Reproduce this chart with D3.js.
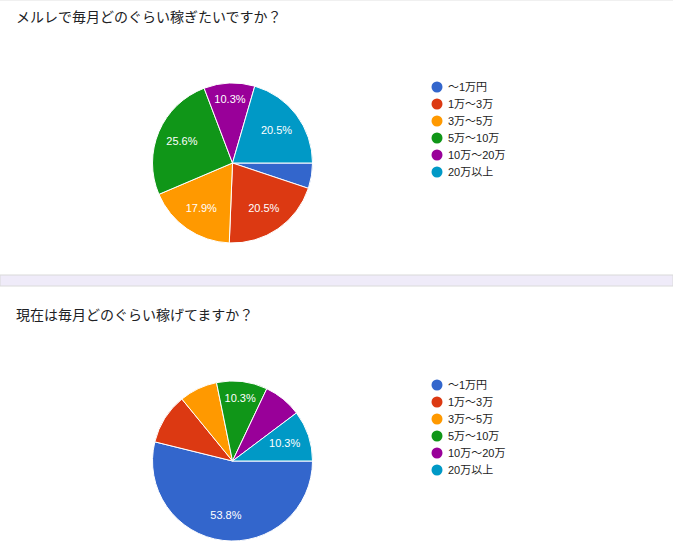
<!DOCTYPE html>
<html>
<head>
<meta charset="utf-8">
<script src="https://cdn.jsdelivr.net/npm/d3@7"></script>
<style>
	body { margin: 0; background: #fff; }
	svg { display: block; }
</style>
</head>
<body>
<div id="chart"></div>
<script>
// answer categories (same for both questions)
const categories = ['～1万円', '1万～3万', '3万～5万', '5万～10万', '10万～20万', '20万以上'];
const colors = ['#3366cc', '#dc3912', '#ff9900', '#109618', '#990099', '#0099c6'];

// question titles
const titles = ['メルレで毎月どのぐらい稼ぎたいですか？', '現在は毎月どのぐらい稼げてますか？'];

// response counts (39 answers each)
const wantCounts = [2, 8, 7, 10, 4, 8];
const nowCounts = [21, 4, 3, 4, 3, 4];

// which slices got a percentage printed on them
const wantLabelShown = [false, true, true, true, true, true];
const nowLabelShown = [true, false, false, true, false, true];

const width = 673, height = 549;
const svg = d3.select('#chart').append('svg')
	.attr('width', width)
	.attr('height', height);

// top hairline and separator band between the two cards
svg.append('rect').attr('x', 0).attr('y', 0).attr('width', width).attr('height', 1).attr('fill', '#f0f0f0');
svg.append('rect').attr('x', 0).attr('y', 275).attr('width', width).attr('height', 11)
	.attr('fill', '#efebf9').attr('stroke', '#dadada').attr('stroke-width', 1);

const color = d3.scaleOrdinal().domain(categories).range(colors);

const pie = d3.pie()
	.sort(null)
	.value(d => d[1])
	.startAngle(Math.PI / 2)
	.endAngle(Math.PI / 2 + 2 * Math.PI);

const radius = 80;
const arc = d3.arc().innerRadius(0).outerRadius(radius);

// push a label outwards along the slice middle until its box clears both edges
function labelRadius(d, w, h) {
	const base = 55, margin = 3.5;
	if (d.endAngle - d.startAngle > Math.PI) return base;
	const mid = (d.startAngle + d.endAngle) / 2;
	const u0 = [Math.sin(d.startAngle), -Math.cos(d.startAngle)];
	const u1 = [Math.sin(d.endAngle), -Math.cos(d.endAngle)];
	for (let r = base; r < radius; r += 0.5) {
		const cx = r * Math.sin(mid), cy = -r * Math.cos(mid);
		const corners = [[-1, -1], [1, -1], [1, 1], [-1, 1]].map(s => [cx + s[0] * w / 2, cy + s[1] * h / 2]);
		const ok = corners.every(p =>
			u0[0] * p[1] - u0[1] * p[0] >= margin &&
			u1[0] * p[1] - u1[1] * p[0] <= -margin &&
			Math.hypot(p[0], p[1]) <= radius - 2);
		if (ok) return r;
	}
	return base;
}

function drawCard(title, counts, shown, offsetY) {
	const g = svg.append('g').attr('transform', `translate(0,${offsetY})`);

	g.append('text')
		.attr('x', 16)
		.attr('y', 22)
		.attr('font-family', '"Noto Sans CJK JP", sans-serif')
		.attr('font-size', '14px')
		.attr('fill', '#202124')
		.text(title);

	const total = d3.sum(counts);
	const data = pie(categories.map((c, i) => [c, counts[i]]));

	const p = g.append('g').attr('transform', `translate(232.5,163)`);
	p.selectAll('path')
		.data(data)
		.join('path')
		.attr('d', arc)
		.attr('fill', d => color(d.data[0]))
		.attr('stroke', 'white')
		.style('stroke-width', '1px');

	const labels = p.selectAll('text')
		.data(data.filter(d => shown[d.index]))
		.join('text')
		.attr('text-anchor', 'middle')
		.attr('dy', '0.35em')
		.attr('font-family', 'Arial, "Liberation Sans", sans-serif')
		.attr('font-size', '11px')
		.attr('fill', 'white')
		.text(d => (d.data[1] / total * 100).toFixed(1) + '%');
	labels.each(function(d) {
		const w = this.getComputedTextLength();
		const r = labelRadius(d, w, 11);
		const mid = (d.startAngle + d.endAngle) / 2;
		d3.select(this).attr('transform', `translate(${r * Math.sin(mid)},${-r * Math.cos(mid)})`);
	});

	// legend
	const legend = g.append('g').attr('transform', 'translate(437,87)');
	const item = legend.selectAll('g')
		.data(categories)
		.join('g')
		.attr('transform', (d, i) => `translate(0,${i * 17})`);
	item.append('circle')
		.attr('r', 5.5)
		.attr('fill', d => color(d));
	item.append('text')
		.attr('x', 11)
		.attr('dy', '0.36em')
		.attr('font-family', 'Arial, "Liberation Sans", "Noto Sans CJK JP", sans-serif')
		.attr('font-size', '11px')
		.attr('fill', '#222')
		.text(d => d);
}

drawCard(titles[0], wantCounts, wantLabelShown, 0);
drawCard(titles[1], nowCounts, nowLabelShown, 298);
</script>
</body>
</html>
